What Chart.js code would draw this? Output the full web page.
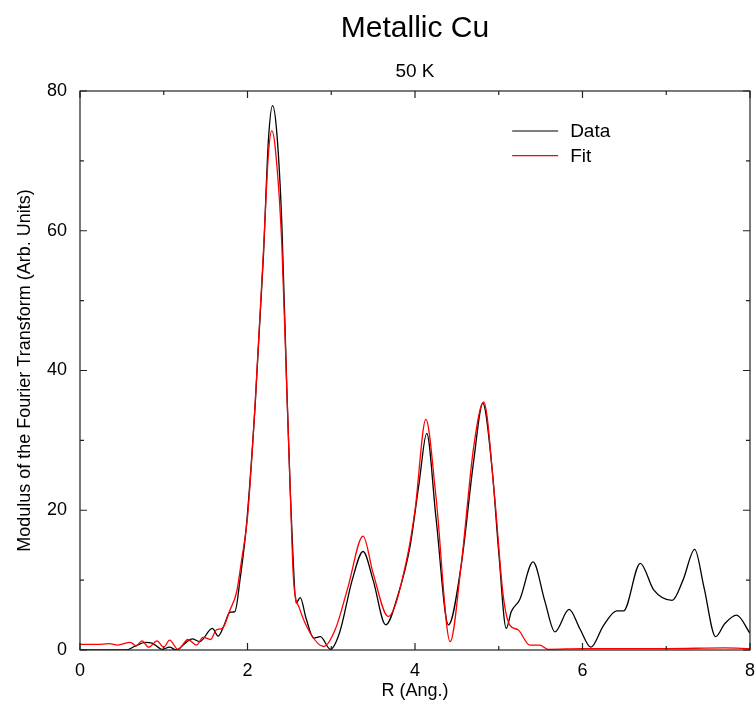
<!DOCTYPE html>
<html>
<head>
<meta charset="utf-8">
<script src="https://cdn.jsdelivr.net/npm/chart.js@4.4.1/dist/chart.umd.min.js"></script>
<style>
  html, body { margin: 0; padding: 0; background: #fff; }
  #wrap { width: 756px; height: 708px; }
</style>
</head>
<body>
<div id="wrap"><canvas id="ftChart" width="756" height="708"></canvas></div>
<script>
const dataR = [0, 0.3, 0.55, 0.65, 0.78, 0.86, 0.98, 1.07, 1.15, 1.25, 1.34, 1.43, 1.58, 1.65, 1.72, 1.79, 1.85,
  1.91, 1.99, 2.09, 2.19, 2.25, 2.30, 2.35, 2.41, 2.47, 2.51, 2.54, 2.58, 2.63, 2.70, 2.79, 2.87, 2.99,
  3.1, 3.25, 3.38, 3.5, 3.65, 3.8, 3.94, 4.05, 4.14, 4.25, 4.40, 4.55, 4.7, 4.81, 4.92, 5.0, 5.09,
  5.15, 5.25, 5.41, 5.55, 5.67, 5.84, 5.97, 6.10, 6.25, 6.41, 6.49, 6.69, 6.85, 7.07, 7.2, 7.34, 7.45,
  7.59, 7.7, 7.84, 8.0];
const dataY = [0, 0, 0, 0.5, 1.1, 1.0, 0.1, 0.4, 0, 0.9, 1.6, 1.2, 3.1, 2.0, 3.5, 5.4, 5.5,
  10, 18.2, 34.8, 56.3, 73, 77.9, 74, 61, 37.2, 22.9, 14.3, 6.7, 7.5, 4.5, 1.7, 1.9, 0.1,
  2.5, 10, 14.1, 10, 3.6, 8, 14.8, 24, 31.0, 19, 3.6, 12, 27, 35.3, 26, 14, 3.1,
  5.5, 7.2, 12.6, 7, 2.6, 5.8, 3, 0.4, 3.5, 5.6, 5.6, 12.4, 8.6, 7.1, 10, 14.4, 9,
  1.9, 3.8, 5.0, 2.4];

// fitted curve
const fitR = [0, 0.2, 0.35, 0.45, 0.6, 0.67, 0.74, 0.82, 0.92, 1.0, 1.07, 1.17, 1.29, 1.39, 1.47, 1.56,
  1.63, 1.70, 1.79, 1.87, 1.93, 2.0, 2.09, 2.19, 2.25, 2.29, 2.33, 2.41, 2.47, 2.51, 2.55, 2.62,
  2.75, 2.91, 3.05, 3.2, 3.38, 3.5, 3.68, 3.9, 4.0, 4.13, 4.25, 4.42, 4.55, 4.7, 4.82, 4.95,
  5.05, 5.13, 5.23, 5.37, 5.49, 5.59, 6.0, 7.0, 7.7, 8.0];
const fitY = [0.8, 0.8, 0.9, 0.7, 1.1, 0.6, 1.3, 0.4, 1.3, 0.4, 1.4, 0.1, 1.5, 0.7, 1.8, 1.5,
  2.9, 3.1, 5.7, 8.3, 12.9, 19, 35, 57, 71, 74.3, 72, 58, 37, 23, 10, 6,
  2.4, 0.5, 3, 9, 16.3, 11, 4.8, 12.9, 20, 33.0, 22, 1.2, 12, 29, 35.5, 22,
  8.1, 3.6, 2.9, 0.7, 0.7, 0.1, 0.2, 0.2, 0.3, 0.2];

const seriesNames = ['Data', 'Fit'];
const seriesColors = ['#000000', '#ff0000'];
const xTicks = [0, 2, 4, 6, 8];
const yTicks = [0, 20, 40, 60, 80];

const FONT = 'Liberation Sans, Arial, Helvetica, sans-serif';

function toPoints(xs, ys) {
  return xs.map((x, i) => ({ x: x, y: ys[i] }));
}

// box frame, inward ticks, titles and legend
const framePlugin = {
  id: 'frame',
  afterDraw(chart) {
    const ctx = chart.ctx;
    const a = chart.chartArea;
    const xs = chart.scales.x, ys = chart.scales.y;
    ctx.save();
    ctx.strokeStyle = '#222';
    ctx.lineWidth = 1.2;
    ctx.strokeRect(a.left, a.top, a.right - a.left, a.bottom - a.top);
    ctx.beginPath();
    for (let v = 0; v <= 8; v += 1) {
      const px = xs.getPixelForValue(v);
      const len = v % 2 === 0 ? 7 : 4;
      ctx.moveTo(px, a.bottom); ctx.lineTo(px, a.bottom - len);
      ctx.moveTo(px, a.top); ctx.lineTo(px, a.top + len);
    }
    for (let v = 0; v <= 80; v += 10) {
      const py = ys.getPixelForValue(v);
      const len = v % 20 === 0 ? 7 : 4;
      ctx.moveTo(a.left, py); ctx.lineTo(a.left + len, py);
      ctx.moveTo(a.right, py); ctx.lineTo(a.right - len, py);
    }
    ctx.stroke();

    // titles
    const cx = (a.left + a.right) / 2;
    ctx.fillStyle = '#000';
    ctx.textAlign = 'center';
    ctx.textBaseline = 'alphabetic';
    ctx.font = '30px ' + FONT;
    ctx.fillText('Metallic Cu', cx, 37);
    ctx.font = '19px ' + FONT;
    ctx.fillText('50 K', cx, 77);

    // legend
    ctx.font = '19px ' + FONT;
    ctx.textAlign = 'left';
    ctx.textBaseline = 'middle';
    const lx = a.left + (a.right - a.left) * 0.645;
    seriesNames.forEach((name, i) => {
      const ly = a.top + 40 + i * 24.7;
      ctx.strokeStyle = seriesColors[i];
      ctx.lineWidth = 1.2;
      ctx.beginPath();
      ctx.moveTo(lx, ly); ctx.lineTo(lx + 46, ly);
      ctx.stroke();
      ctx.fillStyle = '#000';
      ctx.fillText(name, lx + 58, ly + 1);
    });
    ctx.restore();
  }
};

const ctx = document.getElementById('ftChart').getContext('2d');
new Chart(ctx, {
  type: 'line',
  data: {
    datasets: [
      {
        label: seriesNames[0],
        data: toPoints(dataR, dataY),
        borderColor: seriesColors[0],
        borderWidth: 1.3,
        pointRadius: 0,
        cubicInterpolationMode: 'monotone',
        fill: false,
        order: 2
      },
      {
        label: seriesNames[1],
        data: toPoints(fitR, fitY),
        borderColor: seriesColors[1],
        borderWidth: 1.3,
        pointRadius: 0,
        cubicInterpolationMode: 'monotone',
        fill: false,
        order: 1
      }
    ]
  },
  options: {
    responsive: false,
    animation: false,
    layout: { padding: { top: 91, right: 6, left: 0, bottom: 0 } },
    plugins: {
      legend: { display: false },
      tooltip: { enabled: false },
      title: { display: false }
    },
    scales: {
      x: {
        type: 'linear',
        min: 0,
        max: 8,
        afterBuildTicks: s => { s.ticks = xTicks.map(v => ({ value: v })); },
        afterFit: s => { s.height = 58; s.paddingLeft = 0; s.paddingRight = 0; },
        grid: { display: false, drawTicks: false },
        border: { display: false },
        ticks: { color: '#000', padding: 10, font: { family: FONT, size: 18 }, maxRotation: 0 },
        title: { display: true, text: 'R (Ang.)', color: '#000', font: { family: FONT, size: 18 }, padding: { top: 0, bottom: 6 } }
      },
      y: {
        min: 0,
        max: 80,
        afterBuildTicks: s => { s.ticks = yTicks.map(v => ({ value: v })); },
        afterFit: s => { s.width = 80; s.paddingTop = 0; s.paddingBottom = 0; },
        grid: { display: false, drawTicks: false },
        border: { display: false },
        ticks: { color: '#000', padding: 13, font: { family: FONT, size: 18 } },
        title: { display: true, text: 'Modulus of the Fourier Transform (Arb. Units)', color: '#000', font: { family: FONT, size: 18 }, padding: { top: 14, bottom: 0 } }
      }
    }
  },
  plugins: [framePlugin]
});
</script>
</body>
</html>
